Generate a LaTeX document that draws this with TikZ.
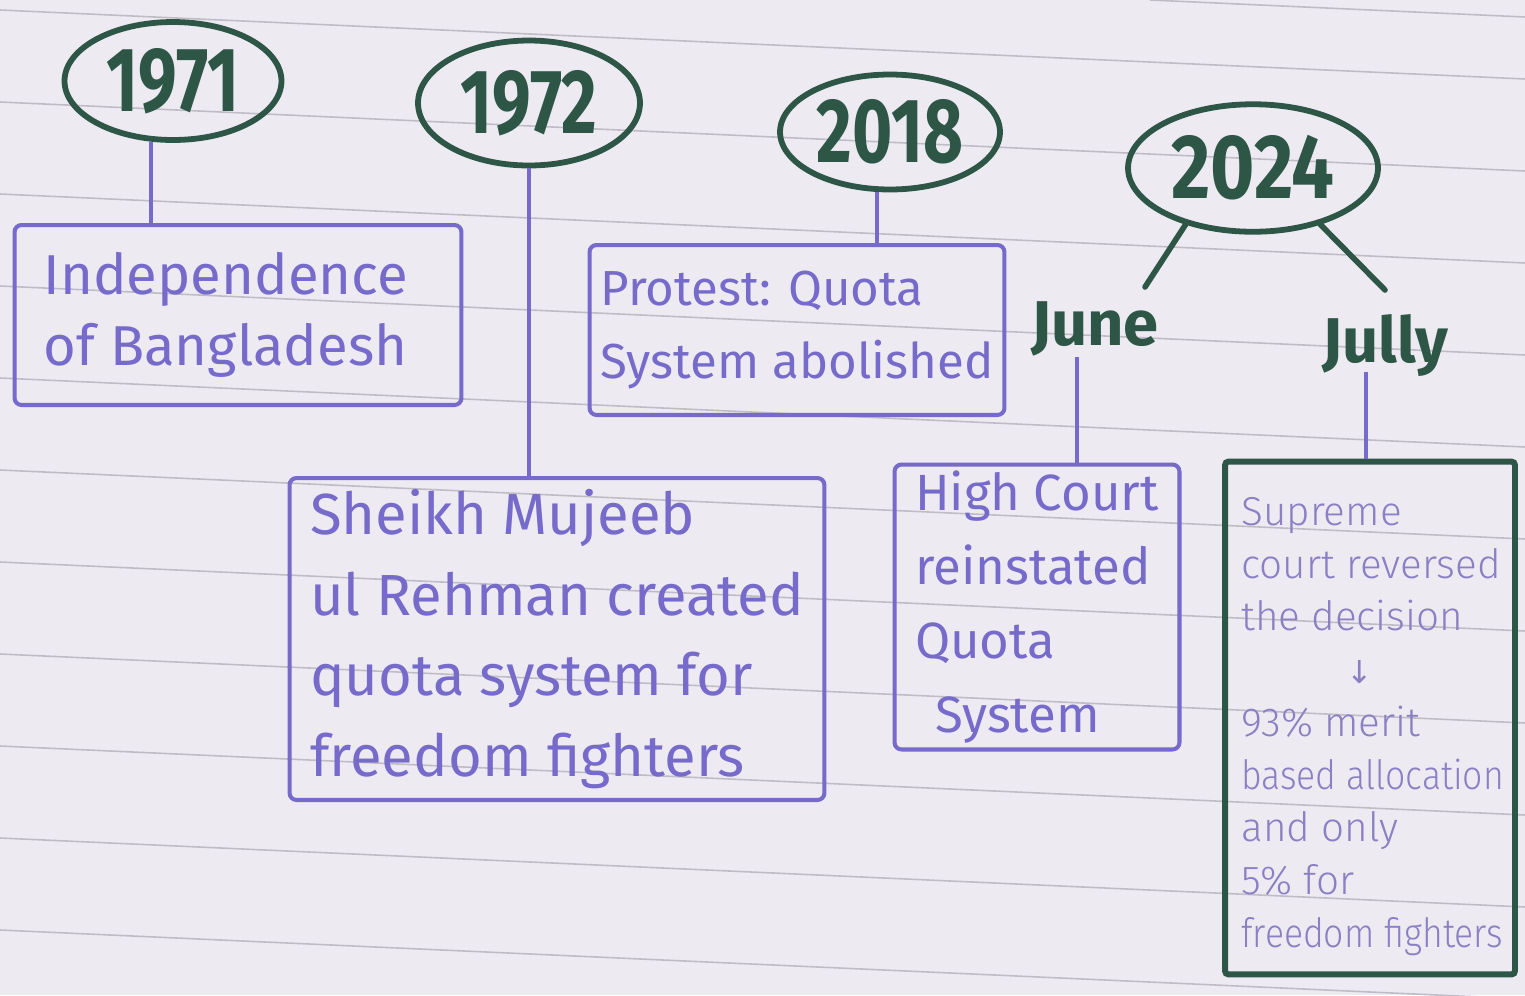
\documentclass[tikz,border=0pt]{standalone}
\usepackage{fontspec}
\setmainfont{Fira Sans}
\newfontfamily\lightfont{Fira Sans Light}
\newfontfamily\dvs{DejaVu Sans}
\usetikzlibrary{shapes.geometric,calc}
\definecolor{paper}{RGB}{237,234,242}
\definecolor{rulecol}{RGB}{192,188,198}
\definecolor{ink}{RGB}{118,106,202}
\definecolor{inklight}{RGB}{138,128,196}
\definecolor{marker}{RGB}{45,86,70}
\begin{document}
\begin{tikzpicture}[x=0.02cm,y=-0.02cm,
  year/.style={ellipse, draw=marker, line width=3.3pt, text=marker, inner sep=0pt,
    font=\fontsize{40}{40}\selectfont\bfseries},
  event/.style={rectangle, draw=ink, line width=2.3pt, rounded corners=4pt, text=ink,
    align=left, inner sep=0pt},
  month/.style={text=marker, font=\fontsize{36}{36}\selectfont\bfseries, inner sep=0pt, anchor=base},
  link/.style={draw=ink, line width=2.5pt},
  leg/.style={draw=marker, line width=3.2pt, line cap=round},
  ruling/.style={draw=rulecol, line width=0.9pt}]
\path[use as bounding box, fill=paper] (0,0) rectangle (1525,995);
% ruled paper
\foreach \yy in {10,102,...,1000} \draw[ruling] (0,\yy) -- (1525,\yy+69);
\draw[ruling] (1150,0) -- (1525,17);

% years
\node[year, minimum width=4.34cm, minimum height=2.36cm] (y1971) at (173,81) {\scalebox{0.98}[1.3]{1971}};
\node[year, minimum width=4.44cm, minimum height=2.5cm] (y1972) at (529,103) {\scalebox{0.98}[1.3]{1972}};
\node[year, minimum width=4.4cm, minimum height=2.3cm] (y2018) at (890,132) {\scalebox{0.98}[1.3]{2018}};
\node[year, minimum width=5.0cm, minimum height=2.55cm] (y2024) at (1253,168) {\scalebox{1.08}[1.3]{2024}};

% events
\node[event, minimum width=8.94cm, minimum height=3.6cm,
  font=\fontsize{32}{40}\selectfont] (indep) at (238,315) {Independence\\of Bangladesh\hspace*{0.5cm}};
\node[event, minimum width=10.7cm, minimum height=6.44cm,
  font=\fontsize{33}{46}\selectfont] (sheikh) at (557,639)
  {Sheikh Mujeeb\\ul Rehman created\\quota system for\\freedom fighters};
\node[event, minimum width=8.3cm, minimum height=3.4cm,
  font=\fontsize{28}{42}\selectfont] (protest) at (797,330) {Protest: Quota\\System abolished};
\node[event, minimum width=5.7cm, minimum height=5.7cm,
  font=\fontsize{29}{42}\selectfont] (high) at (1037,607)
  {High Court\\reinstated\\Quota\\\hspace*{0.4cm}System};
\node[event, draw=marker, line width=3.4pt, rounded corners=2pt,
  minimum width=5.8cm, minimum height=10.26cm] (supreme) at (1370,718) {};
\node[anchor=north west, inner sep=0pt, align=left, text=inklight,
  font=\lightfont\fontsize{23}{30}\selectfont] (supremetext) at (1241,497)
  {Supreme\\court reversed\\the decision\\\hspace*{2.1cm}{\dvs\fontsize{18}{30}\selectfont ↓}\\93\% merit\\\scalebox{0.88}[1]{based allocation}\\and only\\5\% for\\\scalebox{0.88}[1]{freedom fighters}};

% months
\node[month] (june) at (1095,345) {June};
\node[month] (jully) at (1385,362) {Jully};

% connectors
\draw[link] (y1971.-110) -- (y1971.-110 |- indep.north);
\draw[link] (y1972.south) -- (y1972.south |- sheikh.north);
\draw[link] (y2018.-102) -- (y2018.-102 |- protest.north);
\coordinate (junefoot) at ($(june.base)+(-18,12)$);
\draw[link] (junefoot) -- (junefoot |- high.north);
\coordinate (jullyfoot) at ($(jully.base)+(-19,10)$);
\draw[link] (jullyfoot) -- (jullyfoot |- supreme.north);
\coordinate (legL) at (1145,287);
\coordinate (legR) at (1385,290);
\draw[leg] (y2024.-140) -- (legL);
\draw[leg] (y2024.-40) -- (legR);
\end{tikzpicture}
\end{document}
